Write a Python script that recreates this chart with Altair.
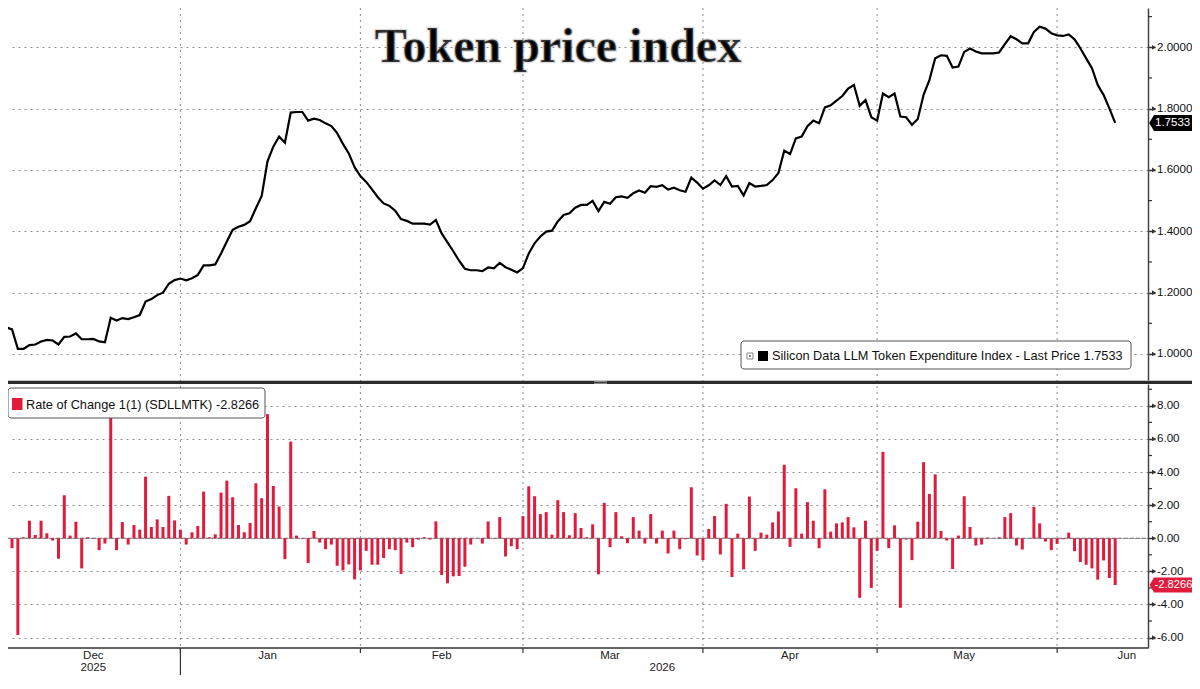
import altair as alt
import pandas as pd

# ---------------- data ----------------
line_start = "2025-12-02"
price = [
    1.087,
    1.080, 1.017, 1.017, 1.029, 1.031, 1.041, 1.046, 1.044, 1.031, 1.056,
    1.057, 1.067, 1.048, 1.048, 1.049, 1.041, 1.038, 1.118, 1.109, 1.117,
    1.114, 1.120, 1.127, 1.171, 1.179, 1.192, 1.200, 1.229, 1.241, 1.246,
    1.240, 1.247, 1.258, 1.289, 1.289, 1.292, 1.328, 1.367, 1.405, 1.415,
    1.421, 1.433, 1.475, 1.515, 1.628, 1.676, 1.709, 1.689, 1.787, 1.789,
    1.789, 1.761, 1.767, 1.763, 1.752, 1.743, 1.720, 1.685, 1.654, 1.609,
    1.580, 1.561, 1.537, 1.511, 1.491, 1.483, 1.467, 1.440, 1.434, 1.425,
    1.425, 1.425, 1.422, 1.437, 1.393, 1.364, 1.335, 1.304, 1.278, 1.273,
    1.273, 1.270, 1.282, 1.279, 1.297, 1.283, 1.275, 1.266, 1.280, 1.328,
    1.361, 1.383, 1.399, 1.402, 1.432, 1.453, 1.459, 1.477, 1.486, 1.486,
    1.499, 1.466, 1.496, 1.490, 1.511, 1.514, 1.509, 1.524, 1.533, 1.526,
    1.547, 1.545, 1.550, 1.536, 1.542, 1.534, 1.529, 1.575, 1.559, 1.539,
    1.550, 1.566, 1.551, 1.580, 1.546, 1.548, 1.517, 1.557, 1.546, 1.548,
    1.551, 1.567, 1.590, 1.663, 1.652, 1.703, 1.709, 1.743, 1.761, 1.752,
    1.804, 1.811, 1.826, 1.841, 1.865, 1.877, 1.809, 1.828, 1.772, 1.761,
    1.849, 1.837, 1.849, 1.774, 1.772, 1.747, 1.766, 1.845, 1.893, 1.964,
    1.974, 1.972, 1.934, 1.937, 1.985, 1.996, 1.986, 1.980, 1.980, 1.980,
    1.983, 2.010, 2.036, 2.026, 2.013, 2.013, 2.050, 2.067, 2.061, 2.046,
    2.039, 2.037, 2.042, 2.026, 1.997, 1.964, 1.932, 1.877, 1.845, 1.801,
    1.7533,
]

roc_start = "2025-12-03"
roc = [
    -0.6, -5.84, 0.06, 1.06, 0.2, 1.06, 0.3, -0.14, -1.24, 2.6,
    0.16, 1.0, -1.82, 0.06, 0.02, -0.72, -0.32, 7.7, -0.72, 0.98,
    -0.38, 0.8, 0.52, 3.72, 0.68, 1.14, 0.68, 2.56, 1.08, 0.52,
    -0.38, 0.36, 0.74, 2.82, 0.06, 0.24, 2.76, 3.48, 2.48, 0.8,
    0.36, 0.92, 3.32, 2.42, 7.5, 3.16, 1.92, -1.26, 5.84, 0.16,
    0.02, -1.5, 0.44, -0.26, -0.66, -0.38, -1.66, -1.94, -1.58, -2.48,
    -1.94, -0.76, -1.6, -1.6, -1.2, -0.66, -0.72, -2.16, -0.26, -0.54,
    -0.08, 0.06, -0.08, 1.02, -2.22, -2.72, -2.3, -2.28, -1.72, -0.38,
    0.0, -0.32, 1.02, 0.02, 1.28, -1.1, -0.48, -0.66, 1.34, 3.14,
    2.54, 1.46, 1.58, 0.22, 2.3, 1.58, 0.18, 1.52, 0.62, 0.06,
    0.84, -2.18, 2.14, -0.54, 1.58, 0.12, -0.3, 1.28, 0.46, -0.32,
    1.46, -0.32, 0.46, -0.92, 0.46, -0.66, -0.06, 3.08, -1.04, -1.32,
    0.56, 1.34, -0.98, 2.08, -2.34, 0.28, -1.88, 2.52, -0.76, 0.34,
    0.22, 0.96, 1.62, 4.44, -0.52, 3.02, 0.28, 2.18, 1.06, -0.6,
    2.96, 0.4, 0.9, 0.96, 1.28, 0.66, -3.6, 1.06, -3.0, -0.76,
    5.22, -0.6, 0.78, -4.2, -0.08, -1.32, 1.0, 4.6, 2.68, 3.86,
    0.44, -0.14, -1.86, 0.16, 2.54, 0.68, -0.44, -0.38, 0.04, 0.0,
    0.06, 1.28, 1.52, -0.44, -0.68, 0.0, 1.9, 0.9, -0.2, -0.72,
    -0.34, -0.06, 0.34, -0.78, -1.44, -1.6, -1.82, -2.5, -1.34, -2.4,
    -2.8266,
]

month_starts = ["2026-01-01", "2026-02-01", "2026-03-01", "2026-04-01", "2026-05-01", "2026-06-01"]
month_label_dates = ["2025-12-17", "2026-01-16", "2026-02-15", "2026-03-16", "2026-04-16", "2026-05-16", "2026-06-13"]
month_labels = ["Dec", "Jan", "Feb", "Mar", "Apr", "May", "Jun"]
year_label_dates = ["2025-12-17", "2026-03-25"]
year_labels = ["2025", "2026"]
year_divider = ["2026-01-01"]

price_ticks = [1.0, 1.2, 1.4, 1.6, 1.8, 2.0]
price_minor = [1.1, 1.3, 1.5, 1.7, 1.9, 2.1]
roc_ticks = [-6, -4, -2, 0, 2, 4, 6, 8]
roc_minor = [-5, -3, -1, 1, 3, 5, 7, 9]

last_price = [1.7533]
last_price_text = ["1.7533"]
last_roc = [-2.8266]
last_roc_text = ["-2.8266"]

title_text = ["Token price index"]
legend_top_text = ["Silicon Data LLM Token Expenditure Index - Last Price 1.7533"]
legend_bottom_text = ["Rate of Change 1(1) (SDLLMTK) -2.8266"]

# ---------------- layout / styling ----------------
# drawing is 1184 x 667 px so that the page (8 px body margin) never overflows
W, H = 1140, 640
SVG_W, SVG_H = 1184, 667
RED = "#e01c3c"
GRID = "#8c8c8c"
FONT = "Liberation Sans"
TOP_SCALE = dict(domain=[0.9152, 2.1281], range=[372, 0], nice=False, zero=False)
BOT_SCALE = dict(domain=[-6.63, 9.32], range=[H, 376], nice=False, zero=False)
X_DOMAIN = [alt.DateTime(year=2025, month=12, date=3, hours=4, utc=True),
            alt.DateTime(year=2026, month=6, date=15, hours=19, utc=True)]


def days(start, n):
    return [d.strftime("%Y-%m-%d") for d in pd.date_range(start, periods=n, freq="D")]


def xenc(field="date"):
    return alt.X(f"{field}:T", scale=alt.Scale(type="utc", domain=X_DOMAIN), axis=None)


def ytop(field="v", axis=None):
    return alt.Y(f"{field}:Q", scale=alt.Scale(**TOP_SCALE), axis=axis)


def ybot(field="v", axis=None):
    return alt.Y(f"{field}:Q", scale=alt.Scale(**BOT_SCALE), axis=axis)


def one(text):
    return pd.DataFrame({"t": text})


def blank():
    return pd.DataFrame({"v": [0]})


line_df = pd.DataFrame({"date": days(line_start, len(price)), "price": price})
roc_df = pd.DataFrame({"date": days(roc_start, len(roc)), "roc": roc})
months_df = pd.DataFrame({"date": month_starts})
mlab_df = pd.DataFrame({"date": month_label_dates, "t": month_labels})
ylab_df = pd.DataFrame({"date": year_label_dates, "t": year_labels})

axis_style = dict(orient="right", grid=True, gridDash=[2, 4], gridColor=GRID, gridWidth=1,
                  domainColor="#444", domainWidth=1.5, tickColor="#333",
                  tickSize=7, tickWidth=1.5, labelFont=FONT, labelFontSize=11.6,
                  labelColor="#111", labelPadding=1.5, title=None, labelOverlap=False)
top_axis = alt.Axis(values=price_ticks, format=".4f", **axis_style)
bot_axis = alt.Axis(values=roc_ticks,
                    labelExpr="replace(format(datum.value, '.2f'), '\u2212', '-')",
                    **axis_style)

layers = []

# vertical month grid
layers.append(alt.Chart(months_df).mark_rule(color=GRID, strokeDash=[2, 4], strokeWidth=1).encode(
    x=xenc(), y=alt.value(0), y2=alt.value(H)))

# zero line of the bottom panel
layers.append(alt.Chart(pd.DataFrame({"v": [0]})).mark_rule(color="#666", strokeDash=[4, 2], strokeWidth=1).encode(
    y=ybot(), x=alt.value(0), x2=alt.value(W)))

# price line
layers.append(alt.Chart(line_df).mark_line(color="#000", strokeWidth=2.2, clip=True).encode(
    x=xenc(), y=ytop("price", top_axis)))

# rate of change bars
layers.append(alt.Chart(roc_df).mark_bar(size=3, color=RED, clip=True).encode(
    x=xenc(), y=ybot("roc", bot_axis)))

# minor ticks on the right axes
layers.append(alt.Chart(pd.DataFrame({"v": price_minor})).mark_rule(color="#333", strokeWidth=1.2).encode(
    y=ytop(), x=alt.value(W), x2=alt.value(W + 4)))
layers.append(alt.Chart(pd.DataFrame({"v": roc_minor})).mark_rule(color="#333", strokeWidth=1.2).encode(
    y=ybot(), x=alt.value(W), x2=alt.value(W + 4)))
# arrow heads of major ticks
layers.append(alt.Chart(pd.DataFrame({"v": price_ticks})).mark_point(
    shape="triangle-right", filled=True, size=22, color="#333", opacity=1).encode(
    y=ytop(), x=alt.value(W + 6)))
layers.append(alt.Chart(pd.DataFrame({"v": roc_ticks})).mark_point(
    shape="triangle-right", filled=True, size=22, color="#333", opacity=1).encode(
    y=ybot(), x=alt.value(W + 6)))

# title (the soft shadow is drawn as a faint outline, not as a second text)
layers.append(alt.Chart(one(title_text)).mark_text(
    font="Liberation Serif", fontWeight="bold", fontSize=48, align="center",
    baseline="alphabetic", color="#000", stroke="#9a9a9a", strokeWidth=2.5,
    strokeOpacity=0.35, dx=2, dy=0).encode(
    text="t:N", x=alt.value(548), y=alt.value(54)))

# x axis line, month ticks and year divider
layers.append(alt.Chart(blank()).mark_rule(color="#333", strokeWidth=1.5).encode(
    x=alt.value(0), x2=alt.value(W), y=alt.value(H)))
layers.append(alt.Chart(months_df).mark_rule(color="#333", strokeWidth=1.2).encode(
    x=xenc(), y=alt.value(H), y2=alt.value(H + 5)))
layers.append(alt.Chart(pd.DataFrame({"date": year_divider})).mark_rule(color="#333", strokeWidth=1.2).encode(
    x=xenc(), y=alt.value(H), y2=alt.value(SVG_H)))
layers.append(alt.Chart(mlab_df).mark_text(font=FONT, fontSize=11.5, color="#222", baseline="middle").encode(
    x=xenc(), y=alt.value(H + 7.5), text="t:N"))
layers.append(alt.Chart(ylab_df).mark_text(font=FONT, fontSize=11.5, color="#222", baseline="middle").encode(
    x=xenc(), y=alt.value(H + 20), text="t:N"))

# separator between panels
layers.append(alt.Chart(blank()).mark_rule(color="#2b2b2b", strokeWidth=3.3).encode(
    x=alt.value(0), x2=alt.value(SVG_W), y=alt.value(374.3)))
for gy in (373.3, 375.3):
    layers.append(alt.Chart(blank()).mark_rule(color="#bbbbbb", strokeWidth=0.8).encode(
        x=alt.value(586), x2=alt.value(599), y=alt.value(gy)))

# top legend
layers.append(alt.Chart(blank()).mark_rect(
    fill="white", stroke="#555", strokeWidth=1, cornerRadius=3).encode(
    x=alt.value(733), x2=alt.value(1123), y=alt.value(333), y2=alt.value(361)))
layers.append(alt.Chart(blank()).mark_rect(
    fill="white", stroke="#888", strokeWidth=1).encode(
    x=alt.value(739), x2=alt.value(745), y=alt.value(345), y2=alt.value(351)))
layers.append(alt.Chart(blank()).mark_rect(fill="#888").encode(
    x=alt.value(741), x2=alt.value(743), y=alt.value(347), y2=alt.value(349)))
layers.append(alt.Chart(blank()).mark_rect(fill="#000").encode(
    x=alt.value(750), x2=alt.value(760), y=alt.value(343), y2=alt.value(353)))
layers.append(alt.Chart(one(legend_top_text)).mark_text(
    font=FONT, fontSize=12.75, color="#111", align="left", baseline="middle").encode(
    text="t:N", x=alt.value(764), y=alt.value(348)))

# bottom legend
layers.append(alt.Chart(blank()).mark_rect(
    fill="white", stroke="#555", strokeWidth=1, cornerRadius=3).encode(
    x=alt.value(0), x2=alt.value(257), y=alt.value(380), y2=alt.value(410)))
layers.append(alt.Chart(blank()).mark_rect(fill=RED).encode(
    x=alt.value(4), x2=alt.value(14.5), y=alt.value(390), y2=alt.value(402)))
layers.append(alt.Chart(one(legend_bottom_text)).mark_text(
    font=FONT, fontSize=12.75, color="#111", align="left", baseline="middle").encode(
    text="t:N", x=alt.value(18), y=alt.value(397)))

# last value tags
TAG_TOP = "M -0.6 0 L 0 -1 L 4.75 -1 L 4.75 1 L 0 1 Z"
TAG_BOT = "M -0.6 0 L 0 -1 L 5.1 -1 L 5.1 1 L 0 1 Z"
layers.append(alt.Chart(pd.DataFrame({"v": last_price})).mark_point(
    shape=TAG_TOP, filled=True, size=256, color="#000", opacity=1).encode(
    y=ytop(), x=alt.value(W + 6)))
layers.append(alt.Chart(pd.DataFrame({"v": last_price, "t": last_price_text})).mark_text(
    font=FONT, fontSize=11.5, color="white", align="left", baseline="middle").encode(
    y=ytop(), x=alt.value(W + 7), text="t:N"))
layers.append(alt.Chart(pd.DataFrame({"v": last_roc})).mark_point(
    shape=TAG_BOT, filled=True, size=225, color=RED, opacity=1).encode(
    y=ybot(), x=alt.value(W + 6)))
layers.append(alt.Chart(pd.DataFrame({"v": last_roc, "t": last_roc_text})).mark_text(
    font=FONT, fontSize=11.2, color="white", align="left", baseline="middle").encode(
    y=ybot(), x=alt.value(W + 6.5), text="t:N"))

chart = alt.layer(*layers).resolve_scale(y="independent").properties(
    width=W, height=H,
    padding={"left": 0, "top": 0, "right": SVG_W - W, "bottom": SVG_H - H},
    autosize=alt.AutoSizeParams(type="none"),
    background="white",
).configure_view(stroke=None)

chart.save("out.html", embed_options={"renderer": "svg", "actions": False})
